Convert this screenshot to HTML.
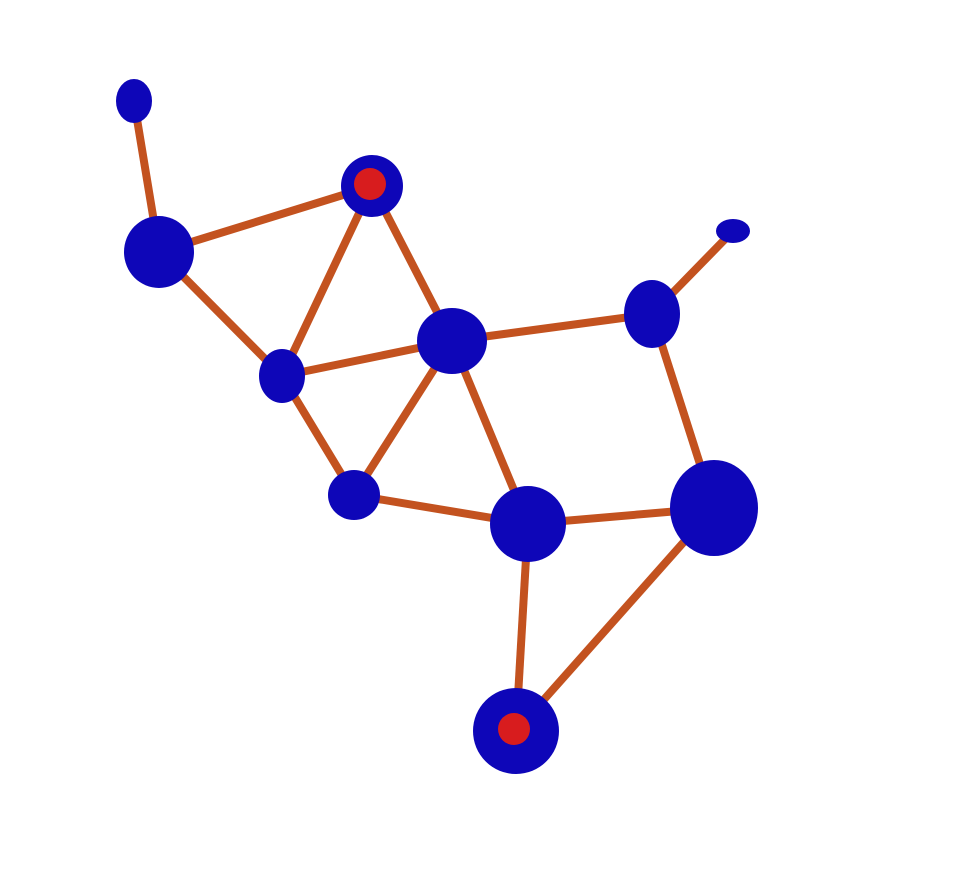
<!DOCTYPE html>
<html><head><meta charset="utf-8"><style>
html,body{margin:0;padding:0;background:#fff;}
svg{display:block;}
</style></head><body>
<svg id="chart" width="975" height="876" viewBox="0 0 975 876" xmlns="http://www.w3.org/2000/svg">
<g id="edges"></g>
<g id="nodes"></g>
</svg>
<script>
const nodeIds = ["A","B","C","D","E","F","G","H","I","J","K"];
const nodeX = [134,159,372,282,452,652,733,354,528,714,516];
const nodeY = [101,252,186,376,341,314,231,495,524,508,731];
const nodeRx = [18,35,31,23,35,28,17,26,38,44,43];
const nodeRy = [22,36,31,27,33,34,12,25,38,48,43];
const nodeMarked = [0,0,1,0,0,0,0,0,0,0,1];
const edgeFrom = ["A","B","B","C","C","D","D","E","E","E","F","F","H","I","I","J"];
const edgeTo   = ["B","C","D","D","E","E","H","H","I","F","G","J","I","J","K","K"];

const NS = "http://www.w3.org/2000/svg";
const eg = document.getElementById("edges");
const ng = document.getElementById("nodes");
function idx(id){ return nodeIds.indexOf(id); }
for (let k = 0; k < edgeFrom.length; k++) {
  const a = idx(edgeFrom[k]), b = idx(edgeTo[k]);
  const l = document.createElementNS(NS, "line");
  l.setAttribute("x1", nodeX[a]); l.setAttribute("y1", nodeY[a]);
  l.setAttribute("x2", nodeX[b]); l.setAttribute("y2", nodeY[b]);
  l.setAttribute("stroke", "#c3521f");
  l.setAttribute("stroke-width", "8");
  
  
  eg.appendChild(l);
}
for (let i = 0; i < nodeIds.length; i++) {
  const e = document.createElementNS(NS, "ellipse");
  e.setAttribute("cx", nodeX[i]); e.setAttribute("cy", nodeY[i]);
  e.setAttribute("rx", nodeRx[i]); e.setAttribute("ry", nodeRy[i]);
  e.setAttribute("fill", "#0e06b8");
  
  
  ng.appendChild(e);
  if (nodeMarked[i]) {
    const c = document.createElementNS(NS, "circle");
    c.setAttribute("cx", nodeX[i] - 2); c.setAttribute("cy", nodeY[i] - 2);
    c.setAttribute("r", 16);
    c.setAttribute("fill", "#d81c1e");
    
    
    ng.appendChild(c);
  }
}
</script>
</body></html>
